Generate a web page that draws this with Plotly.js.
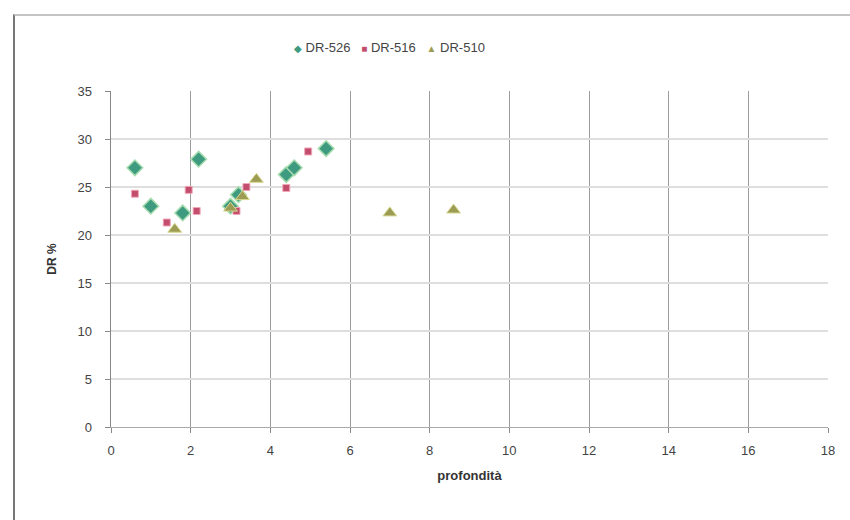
<!DOCTYPE html>
<html>
<head>
<meta charset="utf-8">
<script src="https://cdn.plot.ly/plotly-3.0.1.min.js"></script>
<style>
html,body{margin:0;padding:0;background:#fff;}
#wrap{position:relative;width:850px;height:520px;}
#chart{width:850px;height:520px;}
#frame{position:absolute;left:13px;top:14px;width:837px;height:506px;border-left:2px solid #777;border-top:2px solid #c4c4c4;pointer-events:none;box-sizing:border-box;}
</style>
</head>
<body>
<div id="wrap"><div id="chart"></div><div id="frame"></div></div>
<script>
const seriesNames = ["DR-526", "DR-516", "DR-510"];
const seriesColors = ["#3e9b80", "#c24d6c", "#9c9c55"];
const legendGlyphs = ["◆", "■", "▲"];
const x526 = [0.6, 1.0, 1.8, 2.2, 3.0, 3.2, 4.4, 4.6, 5.4];
const y526 = [27.0, 23.0, 22.3, 27.9, 23.0, 24.2, 26.3, 27.0, 29.0];
const x516 = [0.6, 1.4, 1.95, 2.15, 3.15, 3.4, 4.4, 4.95];
const y516 = [24.3, 21.3, 24.7, 22.5, 22.5, 25.0, 24.9, 28.7];
const x510 = [1.6, 3.0, 3.3, 3.65, 7.0, 8.6];
const y510 = [20.6, 22.8, 24.0, 25.8, 22.3, 22.6];
const xTicks = [0, 2, 4, 6, 8, 10, 12, 14, 16, 18];
const yTicks = [0, 5, 10, 15, 20, 25, 30, 35];

const traces = [
  {x: x526, y: y526, name: seriesNames[0], mode: "markers", type: "scatter",
   marker: {symbol: "diamond", size: 12, color: seriesColors[0], line: {color: "#a6dcae", width: 1.5}}},
  {x: x516, y: y516, name: seriesNames[1], mode: "markers", type: "scatter",
   marker: {symbol: "square", size: 7, color: seriesColors[1], line: {color: "#f0a8b8", width: 1}}},
  {x: x510, y: y510, name: seriesNames[2], mode: "markers", type: "scatter",
   marker: {symbol: "triangle-up", size: 12, color: seriesColors[2], line: {color: "#d8d890", width: 1}}}
];

const legendText = seriesNames.map((n, i) =>
  '<span style="color:' + seriesColors[i] + ';font-size:10px">' + legendGlyphs[i] + '</span> ' + n
).join('&nbsp;&nbsp;&nbsp;');

const layout = {
  width: 850, height: 520,
  margin: {l: 111, r: 22, t: 91, b: 93},
  paper_bgcolor: "#fff", plot_bgcolor: "#fff",
  font: {family: "Liberation Sans, Arial, sans-serif", color: "#444", size: 13},
  showlegend: false,
  annotations: [{
    xref: "paper", yref: "paper", x: 0.3885, y: 1.128, xanchor: "center", yanchor: "middle",
    showarrow: false, text: legendText, font: {size: 13, color: "#444"}
  }],
  xaxis: {range: [0, 18], tickvals: xTicks, ticktext: xTicks.map(String),
          showgrid: true, gridcolor: "#9c9c9c", gridwidth: 1,
          zeroline: false, showline: true, linecolor: "#aaa",
          ticks: "outside", ticklen: 5, tickcolor: "#888", ticklabelstandoff: 6,
          tickfont: {size: 13, color: "#444"},
          title: {text: "<b>profondità</b>", font: {size: 13, color: "#333"}, standoff: 14}},
  yaxis: {range: [0, 35], tickvals: yTicks, ticktext: yTicks.map(String),
          showgrid: true, gridcolor: "#dedede", gridwidth: 1.5,
          zeroline: false, showline: true, linecolor: "#888", linewidth: 1.5,
          ticks: "outside", ticklen: 5, tickcolor: "#888", ticklabelstandoff: 10,
          tickfont: {size: 13, color: "#444"},
          title: {text: "<b>DR %</b>", font: {size: 12, color: "#333"}, standoff: 18}}
};

Plotly.newPlot("chart", traces, layout, {displayModeBar: false, staticPlot: true});
</script>
</body>
</html>
